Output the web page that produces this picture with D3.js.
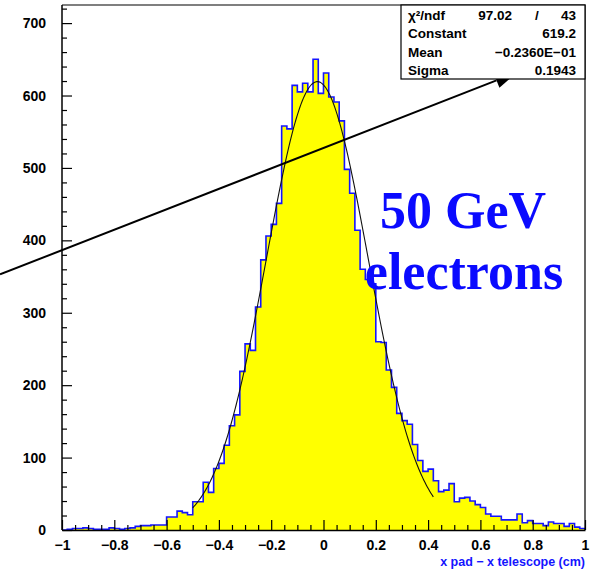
<!DOCTYPE html>
<html>
<head>
<meta charset="utf-8">
<script src="https://cdn.jsdelivr.net/npm/d3@7"></script>
<style>
  body { margin: 0; background: #fff; }
  svg { display: block; }
  .tick text { font-family: "Liberation Sans", Arial, sans-serif; font-weight: bold; font-size: 14px; fill: #000; }
</style>
</head>
<body>
<script>
// Histogram: x pad - x telescope, 100 bins of 0.02 cm between -1 and 1
const binLow = -1;
const binHigh = 1;
const counts = [
  0, 1, 2, 2, 3, 2, 1, 1, 1, 3,
  2, 1, 2, 3, 5, 6, 6, 7, 7, 7,
  18, 18, 26, 24, 21, 39, 39, 66, 52, 85,
  92, 117, 144, 159, 219, 257, 248, 308, 373, 406,
  422, 451, 558, 554, 614, 605, 617, 605, 650, 603,
  631, 598, 591, 565, 498, 465, 414, 360, 346, 340,
  260, 259, 221, 197, 161, 151, 146, 118, 96, 81,
  84, 68, 53, 55, 64, 39, 44, 45, 40, 35,
  31, 22, 19, 19, 14, 14, 14, 22, 10, 13,
  9, 9, 6, 11, 9, 9, 5, 9, 4, 2
];

// Gaussian fit result
const fitConstant = 619.2;
const fitMean = -0.0236;
const fitSigma = 0.1943;
const fitRange = [-0.5, 0.42];

// Axis ticks
const xMajorTicks = [-1, -0.8, -0.6, -0.4, -0.2, 0, 0.2, 0.4, 0.6, 0.8, 1];
const xTickLabels = ["−1", "−0.8", "−0.6", "−0.4", "−0.2", "0", "0.2", "0.4", "0.6", "0.8", "1"];
const yMajorTicks = [0, 100, 200, 300, 400, 500, 600, 700];

// Statistics box rows
const statNames = ["χ²/ndf", "Constant", "Mean", "Sigma"];
const statValues = ["43", "619.2", "−0.2360E−01", "0.1943"];
const chi2Value = "97.02";

// Annotation arrow, in data units (start, tip)
const arrowStart = [-1.237, 353];
const arrowTip = [0.74, 632];

const W = 596, H = 571;
const svg = d3.select("body").append("svg").attr("width", W).attr("height", H);

const x = d3.scaleLinear().domain([binLow, binHigh]).range([62, 585]);
const y = d3.scaleLinear().domain([0, 725]).range([530, 5]);

const binWidth = (binHigh - binLow) / counts.length;

// Histogram step outline, filled
const pts = [[x(binLow), y(0)]];
counts.forEach((c, i) => {
  const lo = binLow + i * binWidth, hi = lo + binWidth;
  pts.push([x(lo), y(c)], [x(hi), y(c)]);
});
pts.push([x(binHigh), y(0)]);

svg.append("path")
  .attr("d", d3.line()(pts))
  .attr("fill", "#ffff00")
  .attr("stroke", "#1414ff")
  .attr("stroke-width", 1.6)
  .attr("stroke-linejoin", "miter");

// Fit curve
const gauss = v => fitConstant * Math.exp(-0.5 * Math.pow((v - fitMean) / fitSigma, 2));
const fitPts = d3.range(0, 201).map(k => {
  const v = fitRange[0] + (fitRange[1] - fitRange[0]) * k / 200;
  return [x(v), y(gauss(v))];
});
svg.append("path")
  .attr("d", d3.line()(fitPts))
  .attr("fill", "none")
  .attr("stroke", "#111")
  .attr("stroke-width", 1.1);

// Frame
svg.append("path")
  .attr("d", `M${x(binLow)},${y(725)}H${x(binHigh)}V${y(0)}`)
  .attr("fill", "none").attr("stroke", "#000").attr("stroke-width", 1.2);

// Y axis
const yMinor = d3.range(0, 721, 20).filter(v => v % 100 !== 0);
svg.append("g").attr("transform", `translate(${x(binLow)},0)`)
  .call(d3.axisLeft(y).tickValues(yMinor).tickSize(-5).tickSizeOuter(0).tickFormat(""))
  .call(g => g.select(".domain").remove())
  .selectAll("line").attr("stroke-width", 1.2);
svg.append("g").attr("transform", `translate(${x(binLow)},0)`)
  .call(d3.axisLeft(y).tickValues(yMajorTicks).tickSize(-10).tickSizeOuter(0).tickPadding(16).tickFormat(d3.format("d")))
  .call(g => g.select(".domain").attr("stroke-width", 1.5).attr("d", `M0,${y(0)}V${y(725)}`))
  .selectAll("line").attr("stroke-width", 1.2);

// X axis
const xMinor = d3.range(-1, 1.0001, 0.05).filter(v => Math.abs(Math.round(v * 5) - v * 5) > 1e-6);
svg.append("g").attr("transform", `translate(0,${y(0)})`)
  .call(d3.axisBottom(x).tickValues(xMinor).tickSize(-5).tickSizeOuter(0).tickFormat(""))
  .call(g => g.select(".domain").remove())
  .selectAll("line").attr("stroke-width", 1.2);
svg.append("g").attr("transform", `translate(0,${y(0)})`)
  .call(d3.axisBottom(x).tickValues(xMajorTicks).tickSize(-10).tickSizeOuter(0).tickPadding(10)
    .tickFormat((d, i) => xTickLabels[i]))
  .call(g => g.select(".domain").attr("stroke-width", 1.5))
  .selectAll("line").attr("stroke-width", 1.2);

// X axis title
svg.append("text")
  .attr("x", x(binHigh)).attr("y", 566)
  .attr("text-anchor", "end")
  .attr("font-family", "Liberation Sans, Arial, sans-serif")
  .attr("font-weight", "bold")
  .attr("font-size", 12.5)
  .attr("fill", "#1414ff")
  .text("x pad − x telescope (cm)");

// Annotation arrow
const p0 = [x(arrowStart[0]), y(arrowStart[1])];
const p1 = [x(arrowTip[0]), y(arrowTip[1])];
const ang = Math.atan2(p1[1] - p0[1], p1[0] - p0[0]);
const headLen = 22, headHalf = 8;
const base = [p1[0] - headLen * Math.cos(ang), p1[1] - headLen * Math.sin(ang)];
svg.append("line")
  .attr("x1", p0[0]).attr("y1", p0[1]).attr("x2", base[0]).attr("y2", base[1])
  .attr("stroke", "#000").attr("stroke-width", 2);
svg.append("path")
  .attr("d", d3.line()([
    p1,
    [base[0] + headHalf * Math.sin(ang), base[1] - headHalf * Math.cos(ang)],
    [base[0] - headHalf * Math.sin(ang), base[1] + headHalf * Math.cos(ang)]
  ]) + "Z")
  .attr("fill", "#000");

// Statistics box
const box = svg.append("g");
box.append("rect")
  .attr("x", 401).attr("y", y(725))
  .attr("width", x(binHigh) - 401).attr("height", 79 - y(725))
  .attr("fill", "#fff").attr("stroke", "#000").attr("stroke-width", 1.2);
const rowY = [20, 38, 57, 75];
const statFont = { "font-family": "Liberation Sans, Arial, sans-serif", "font-weight": "bold", "font-size": 13.5 };
function styled(sel) { Object.entries(statFont).forEach(([k, v]) => sel.attr(k, v)); return sel; }
statNames.forEach((n, i) => {
  styled(box.append("text")).attr("x", 408).attr("y", rowY[i]).text(n);
  styled(box.append("text")).attr("x", 576).attr("y", rowY[i]).attr("text-anchor", "end").text(statValues[i]);
});
styled(box.append("text")).attr("x", 512).attr("y", rowY[0]).attr("text-anchor", "end").text(chi2Value);
styled(box.append("text")).attr("x", 537).attr("y", rowY[0]).attr("text-anchor", "middle").text("/");

// Beam label
const label = svg.append("g")
  .attr("font-family", "Liberation Serif, 'Times New Roman', serif")
  .attr("font-weight", "bold")
  .attr("font-size", 52)
  .attr("fill", "#0a0aff");
label.append("text").attr("x", 463).attr("y", 228).attr("text-anchor", "middle").text("50 GeV");
label.append("text").attr("x", 464).attr("y", 289).attr("text-anchor", "middle").text("electrons");
</script>
</body>
</html>
